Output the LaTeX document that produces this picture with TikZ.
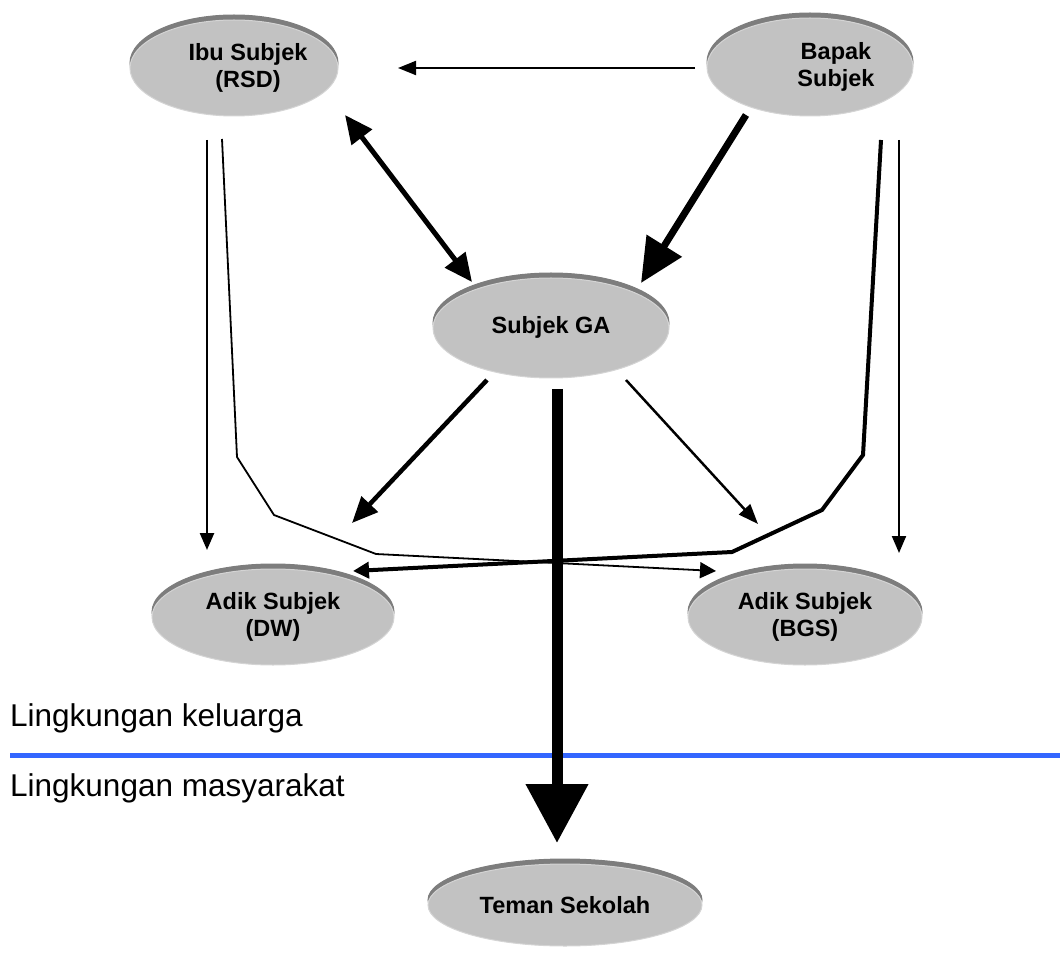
\documentclass[tikz,border=0pt]{standalone}
\usepackage{fontspec}
\setmainfont{Liberation Sans}
\usetikzlibrary{shapes.geometric,arrows.meta,calc}
\definecolor{facegray}{RGB}{194,194,194}
\definecolor{rimgray}{RGB}{125,125,125}
\definecolor{edgegray}{RGB}{212,212,212}
\definecolor{divider}{RGB}{51,102,255}
\begin{document}
\begin{tikzpicture}[x=1pt,y=-1pt,
  oval/.style={ellipse, fill=facegray, draw=edgegray, line width=1pt, inner sep=0pt,
    font=\bfseries\fontsize{23.5}{27}\selectfont, align=center,
    preaction={fill=rimgray, draw=rimgray, transform canvas={yshift=5pt}}},
  caption/.style={font=\bfseries\fontsize{23.5}{27}\selectfont, align=center, inner sep=0pt},
  zone/.style={anchor=base west, inner sep=0pt, font=\fontsize{31.5}{36}\selectfont},
  link/.style={line width=#1, line join=miter},
  thinhead/.style={-{Triangle[length=18pt,width=14pt]}},
]
\useasboundingbox (0,0) rectangle (1060,965);

% family members and school friends
\node[oval, minimum width=208pt, minimum height=96pt,
  label={[caption, xshift=14pt]center:Ibu Subjek\\(RSD)}] (ibu) at (234,68) {};
\node[oval, minimum width=206pt, minimum height=98pt,
  label={[caption, xshift=26pt]center:Bapak\\Subjek}] (bapak) at (810,67) {};
\node[oval, minimum width=236pt, minimum height=100pt] (ga) at (551,328) {\raisebox{6pt}{Subjek GA}};
\node[oval, minimum width=242pt, minimum height=96pt] (dw) at (273,617) {Adik Subjek\\(DW)};
\node[oval, minimum width=234pt, minimum height=96pt] (bgs) at (805,617) {Adik Subjek\\(BGS)};
\node[oval, minimum width=274pt, minimum height=82pt] (teman) at (565,905) {Teman Sekolah};

% environment labels and divider
\node[zone] (kel) at (10,726) {Lingkungan keluarga};
\node[zone] (mas) at (10,796) {Lingkungan masyarakat};
\draw[divider, line width=5pt] (10,755.5) -- (1060,755.5);

% parents
\draw[link=2pt, thinhead] ($(bapak)+(-115,1)$) -- ($(ibu)+(164,0)$);
\draw[link=5pt, {Triangle[length=28pt,width=25pt]}-{Triangle[length=28pt,width=25pt]}]
  ($(ibu)+(111,47)$) -- ($(ga)+(-79,-46)$);
\draw[link=7pt, -{Triangle[length=44pt,width=40pt]}]
  ($(bapak)+(-64,48)$) -- ($(ga)+(90,-45)$);

% from the subject to the siblings
\draw[link=4.5pt, -{Triangle[length=26pt,width=22pt]}] ($(ga)+(-64,52)$) -- ($(dw)+(79,-94)$);
\draw[link=2.5pt, -{Triangle[length=20pt,width=15pt]}] ($(ga)+(75,52)$) -- ($(bgs)+(-47,-93)$);

% parents to the siblings
\draw[link=2.5pt, -{Triangle[length=17pt,width=14pt]}] ($(ibu)+(-27,72)$) -- ($(dw)+(-66,-67)$);
\draw[link=2pt, -{Triangle[length=17pt,width=14pt]}] ($(bapak)+(89,73)$) -- ($(bgs)+(94,-64)$);
\draw[link=1.8pt, -{Triangle[length=16pt,width=16pt]}]
  ($(ibu)+(-12,71)$) -- (237,457) -- (274,515) -- (376,554) -- ($(bgs)+(-89,-46)$);
\draw[link=4pt, -{Triangle[length=16pt,width=16pt]}]
  ($(bapak)+(71,73)$) -- (863,455) -- (822,510) -- (732,552) -- ($(dw)+(80,-46)$);

% the subject to school friends
\draw[link=11pt, -{Triangle[length=59pt,width=60pt]}] ($(ga)+(6,61)$) -- ($(teman)+(-8,-62)$);
\end{tikzpicture}
\end{document}
